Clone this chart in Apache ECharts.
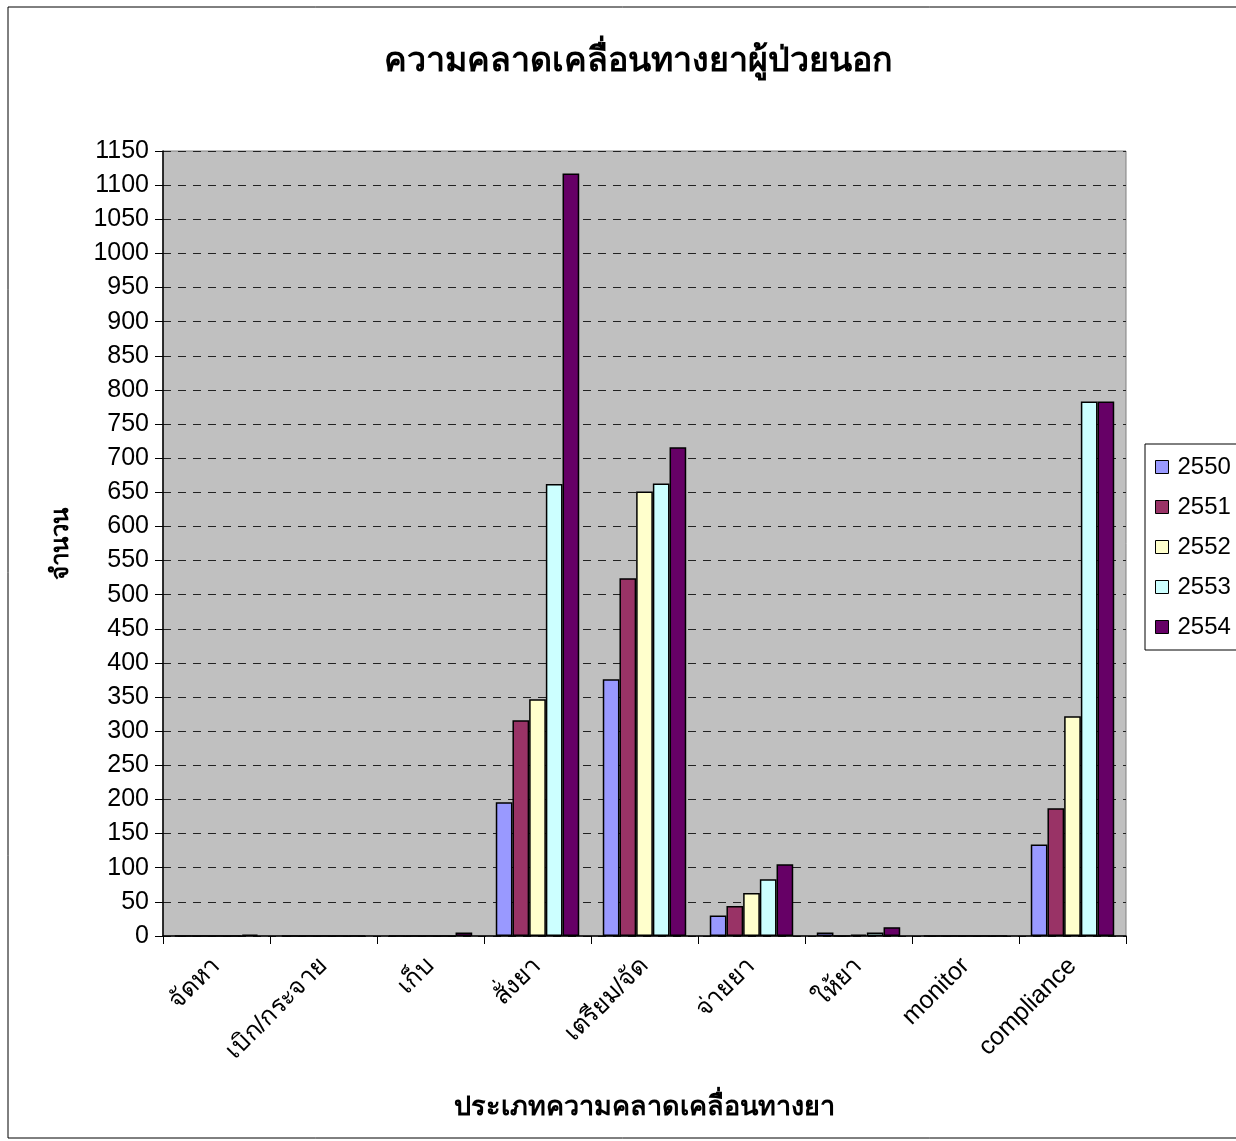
<!DOCTYPE html>
<html>
<head>
<meta charset="utf-8">
<title>ความคลาดเคลื่อนทางยาผู้ป่วยนอก</title>
<script src="https://cdn.jsdelivr.net/npm/echarts@6/dist/echarts.min.js"></script>
<style>
  html, body { margin: 0; padding: 0; background: #ffffff; }
  #chart { width: 1236px; height: 1141px; }
</style>
</head>
<body>
<div id="chart"></div>
<script>
// Error categories along the x axis
const categories = ['จัดหา', 'เบิก/กระจาย', 'เก็บ', 'สั่งยา', 'เตรียม/จัด', 'จ่ายยา', 'ให้ยา', 'monitor', 'compliance'];

// Yearly counts (Buddhist era years)
const years = ['2550', '2551', '2552', '2553', '2554'];
const y2550 = [0, 0, 0, 196, 376, 30, 5, 0, 134];
const y2551 = [0, 0, 0, 316, 524, 44, 0, 0, 187];
const y2552 = [0, 0, 0, 347, 651, 63, 2, 0, 322];
const y2553 = [0, 0, 0, 662, 663, 83, 5, 0, 783];
const y2554 = [2, 0, 5, 1117, 716, 105, 13, 0, 783];

const yearColors = ['#9999FF', '#993366', '#FFFFCC', '#CCFFFF', '#660066'];
const yearValues = [y2550, y2551, y2552, y2553, y2554];

const FONT = '"Liberation Sans", Arial, "Noto Sans", sans-serif';

const chart = echarts.init(document.getElementById('chart'), null, { renderer: 'canvas' });

const series = years.map((name, i) => ({
  name: name,
  type: 'bar',
  data: yearValues[i],
  barGap: '0%',
  barCategoryGap: '22%',
  itemStyle: { color: yearColors[i], borderColor: '#000000', borderWidth: 1.5 },
  emphasis: { disabled: true }
}));

chart.setOption({
  animation: false,
  backgroundColor: '#ffffff',
  graphic: [{
    type: 'rect',
    shape: { x: 8, y: 7, width: 1250, height: 1131 },
    style: { fill: 'none', stroke: '#000000', lineWidth: 1 },
    silent: true,
    z: -1
  }],
  title: {
    text: 'ความคลาดเคลื่อนทางยาผู้ป่วยนอก',
    left: 633,
    textAlign: 'center',
    top: 40,
    textStyle: { fontFamily: FONT, fontSize: 34, fontWeight: 'bold', color: '#000000' }
  },
  legend: {
    orient: 'vertical',
    left: 1145,
    top: 444,
    padding: [11, 40, 11, 10],
    itemGap: 16,
    itemWidth: 13,
    itemHeight: 13,
    icon: 'rect',
    borderColor: '#000000',
    borderWidth: 1,
    backgroundColor: '#ffffff',
    data: years,
    textStyle: { fontFamily: FONT, fontSize: 24, color: '#000000', padding: [0, 0, 0, 4] },
    itemStyle: { borderColor: '#000000', borderWidth: 1 }
  },
  grid: {
    left: 163,
    right: 110,
    top: 151,
    bottom: 205,
    show: true,
    backgroundColor: '#C0C0C0',
    borderColor: '#808080',
    borderWidth: 1
  },
  xAxis: {
    type: 'category',
    data: categories,
    name: 'ประเภทความคลาดเคลื่อนทางยา',
    nameLocation: 'middle',
    nameGap: 158,
    nameTextStyle: { fontFamily: FONT, fontSize: 27, fontWeight: 'bold', color: '#000000' },
    axisLine: { lineStyle: { color: '#000000', width: 1.5 } },
    axisTick: { show: true, alignWithLabel: false, length: 8, lineStyle: { color: '#000000' } },
    axisLabel: {
      rotate: 45,
      interval: 0,
      margin: 26,
      fontFamily: FONT,
      fontSize: 25,
      color: '#000000'
    }
  },
  yAxis: {
    type: 'value',
    min: 0,
    max: 1150,
    interval: 50,
    name: 'จำนวน',
    nameLocation: 'middle',
    nameGap: 90,
    nameTextStyle: { fontFamily: FONT, fontSize: 24, fontWeight: 'bold', color: '#000000' },
    axisLine: { show: true, lineStyle: { color: '#000000', width: 1.5 } },
    axisTick: { show: true, length: 8, lineStyle: { color: '#000000' } },
    axisLabel: {
      fontFamily: FONT, fontSize: 25, color: '#000000', margin: 14,
      formatter: (v) => String(v)
    },
    splitLine: { show: true, lineStyle: { color: '#222222', type: [8, 7], width: 1 } }
  },
  series: series
});
</script>
</body>
</html>
